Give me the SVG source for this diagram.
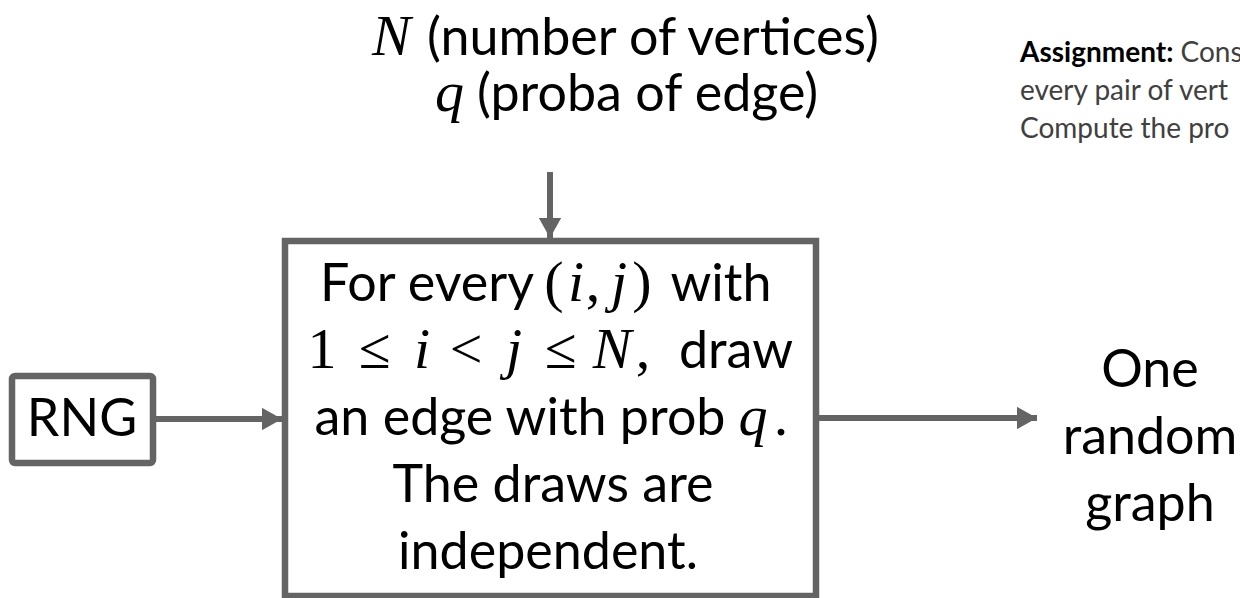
<svg xmlns="http://www.w3.org/2000/svg" width="1240" height="598" viewBox="0 0 1240 598">
<defs>
<style>
.t{font-family:Lato,"Liberation Sans",sans-serif;fill:#000;font-size:52px}
.ctr{text-anchor:middle}
.m{font-family:"Liberation Serif",serif;font-style:italic;font-size:58px}
.r{font-family:"Liberation Serif",serif;font-size:58px}
.box{fill:#fff;stroke:#646464;stroke-width:6.5}
.c{stroke:#646464;stroke-width:6;fill:none}
.note{font-family:Lato,"Liberation Sans",sans-serif;font-size:28px;fill:#404040}
</style>
<marker id="ah" markerWidth="3.4" markerHeight="3.8" refX="3.4" refY="1.9" orient="auto" markerUnits="strokeWidth">
<path d="M0,0 L3.4,1.9 L0,3.8 Z" fill="#646464"/>
</marker>
</defs>
<rect width="1240" height="598" fill="#fff"/>
<g id="inputs">
<text class="t" y="55"><tspan class="m" x="372">N</tspan><tspan x="427">(number of vertices)</tspan></text>
<text class="t" y="111"><tspan class="m" x="435">q</tspan><tspan x="477">(proba of edge)</tspan></text>
</g>
<g id="assignment">
<text class="note" x="1020" y="62"><tspan font-weight="bold" fill="#000">Assignment:</tspan> Cons</text>
<text class="note" x="1020" y="100">every pair of vert</text>
<text class="note" x="1020" y="138">Compute the pro</text>
</g>
<g id="connectors">
<line class="c" x1="550" y1="172" x2="550" y2="238" marker-end="url(#ah)"/>
<line class="c" x1="156" y1="419" x2="282" y2="419" marker-end="url(#ah)"/>
<line class="c" x1="819" y1="418" x2="1037" y2="418" marker-end="url(#ah)"/>
</g>
<g id="rng">
<rect class="box" x="12" y="376" width="141" height="87" rx="3"/>
<text class="t ctr" x="82" y="436" font-size="47">RNG</text>
</g>
<g id="process">
<rect class="box" x="285" y="241" width="531" height="355"/>
<text class="t ctr" y="301"><tspan x="427">For every</tspan><tspan class="r" x="554">(</tspan><tspan class="m" x="576">i</tspan><tspan class="r" x="593">,</tspan><tspan class="m" x="619">j</tspan><tspan class="r" x="642">)</tspan><tspan x="721">with</tspan></text>
<text class="t ctr" y="368"><tspan class="r" x="322">1</tspan><tspan class="r" x="375">≤</tspan><tspan class="m" x="422">i</tspan><tspan class="r" x="466">&lt;</tspan><tspan class="m" x="514">j</tspan><tspan class="r" x="561">≤</tspan><tspan class="m" x="612">N</tspan><tspan class="r" x="643">,</tspan><tspan x="736">draw</tspan></text>
<text class="t ctr" y="435"><tspan x="520">an edge with prob</tspan><tspan class="m" x="753">q</tspan><tspan class="r" x="781">.</tspan></text>
<text class="t ctr" x="553" y="502">The draws are</text>
<text class="t ctr" x="548" y="569">independent.</text>
</g>
<g id="output">
<text class="t ctr" x="1150" y="387">One</text>
<text class="t ctr" x="1150" y="454">random</text>
<text class="t ctr" x="1150" y="521">graph</text>
</g>
</svg>
